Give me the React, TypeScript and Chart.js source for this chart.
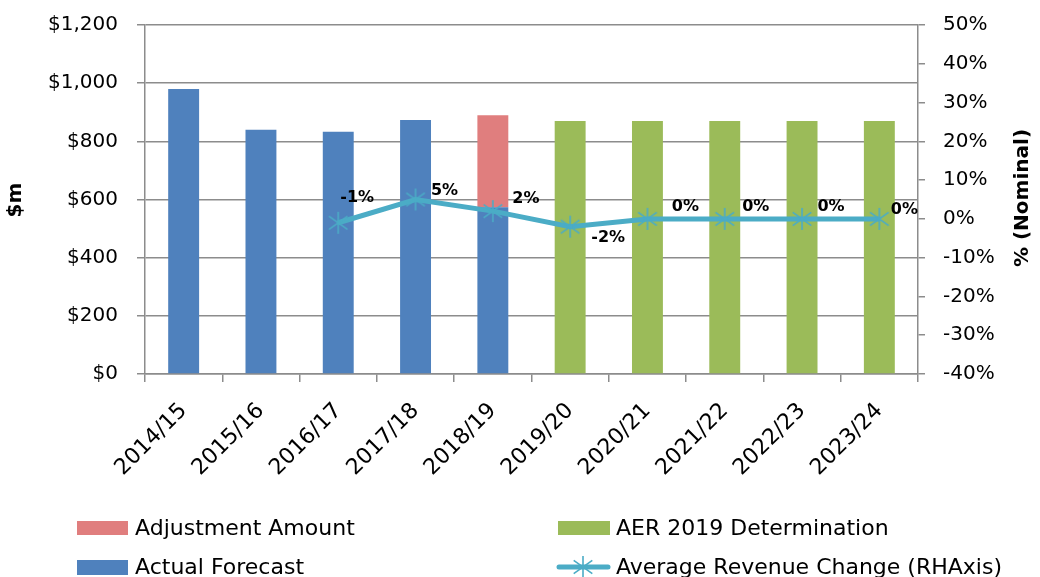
import React, { useEffect, useRef } from "react";
import { Chart, registerables } from "chart.js";

Chart.register(...registerables);

const categories = ["2014/15", "2015/16", "2016/17", "2017/18", "2018/19", "2019/20", "2020/21", "2021/22", "2022/23", "2023/24"];
const actualForecast = [980, 840, 833, 873, 573, null, null, null, null, null];
const adjustmentAmount = [null, null, null, null, 317, null, null, null, null, null];
const aerDetermination = [null, null, null, null, null, 870, 870, 870, 870, 870];
const avgRevenueChange = [null, null, -1, 5, 2, -2, 0, 0, 0, 0];
const leftTicks = [0, 200, 400, 600, 800, 1000, 1200];
const rightTicks = [-40, -30, -20, -10, 0, 10, 20, 30, 40, 50];

// style: data label offsets (px) relative to each point
const labelOffsets: [number, number][] = [
  [0, 0], [0, 0], [19, -25], [29, -9], [33, -12], [38, 11], [38, -12], [31, -12], [29, -12], [25, -9],
];

const BLUE = "#4F81BD";
const RED = "#E07E7E";
const GREEN = "#9BBB59";
const TEAL = "#4BACC6";
const GRID = "#8C8C8C";
const FONT = "'DejaVu Sans', sans-serif";

function makeStar(): HTMLCanvasElement {
  const c = document.createElement("canvas");
  c.width = 22;
  c.height = 24;
  const ctx = c.getContext("2d")!;
  ctx.strokeStyle = TEAL;
  ctx.lineWidth = 1.6;
  const cx = 11, cy = 12;
  ctx.beginPath();
  ctx.moveTo(cx, cy - 11); ctx.lineTo(cx, cy + 11);
  ctx.moveTo(cx - 9.3, cy - 6.7); ctx.lineTo(cx + 9.3, cy + 6.7);
  ctx.moveTo(cx - 9.3, cy + 6.7); ctx.lineTo(cx + 9.3, cy - 6.7);
  ctx.stroke();
  return c;
}

export default function App() {
  const ref = useRef<HTMLCanvasElement>(null);
  useEffect(() => {
    const star = makeStar();
    const extras = {
      id: "extras",
      afterDatasetsDraw(chart: any) {
        const ctx = chart.ctx;
        const meta = chart.getDatasetMeta(3);
        ctx.save();
        ctx.font = `bold 16px ${FONT}`;
        ctx.fillStyle = "#000";
        ctx.textAlign = "center";
        ctx.textBaseline = "middle";
        meta.data.forEach((pt: any, i: number) => {
          const v = avgRevenueChange[i];
          if (v === null || v === undefined) return;
          const [dx, dy] = labelOffsets[i];
          ctx.fillText(`${v}%`, pt.x + dx, pt.y + dy);
        });
        ctx.restore();
      },
      afterDraw(chart: any) {
        const ctx = chart.ctx;
        ctx.save();
        // axis titles
        ctx.font = `bold 20px ${FONT}`;
        ctx.fillStyle = "#000";
        ctx.textAlign = "center";
        ctx.textBaseline = "middle";
        ctx.save();
        ctx.translate(16, 200);
        ctx.rotate(-Math.PI / 2);
        ctx.fillText("$m", 0, 0);
        ctx.restore();
        ctx.save();
        ctx.translate(1023, 198);
        ctx.rotate(-Math.PI / 2);
        ctx.fillText("% (Nominal)", 0, 0);
        ctx.restore();
        // legend
        ctx.font = `22px ${FONT}`;
        ctx.textAlign = "left";
        ctx.fillStyle = RED;
        ctx.fillRect(77, 521, 51, 14);
        ctx.fillStyle = GREEN;
        ctx.fillRect(558, 521, 52, 14);
        ctx.fillStyle = BLUE;
        ctx.fillRect(77, 560, 51, 15);
        ctx.strokeStyle = TEAL;
        ctx.lineWidth = 5;
        ctx.lineCap = "round";
        ctx.beginPath();
        ctx.moveTo(559, 567);
        ctx.lineTo(608, 567);
        ctx.stroke();
        ctx.drawImage(star, 583 - 11, 567 - 12);
        ctx.fillStyle = "#000";
        ctx.fillText("Adjustment Amount", 135, 529);
        ctx.fillText("AER 2019 Determination", 616, 529);
        ctx.fillText("Actual Forecast", 135, 568);
        ctx.fillText("Average Revenue Change (RHAxis)", 616, 568);
        ctx.restore();
      },
    };

    const noVPad = (scale: any, w: number) => {
      scale.width = w;
      scale.paddingTop = 0;
      scale.paddingBottom = 0;
    };

    const chart = new Chart(ref.current!, {
      type: "bar",
      data: {
        labels: categories,
        datasets: [
          { label: "Actual Forecast", data: actualForecast as any, backgroundColor: BLUE, yAxisID: "y", stack: "s", order: 1 },
          { label: "Adjustment Amount", data: adjustmentAmount as any, backgroundColor: RED, yAxisID: "y", stack: "s", order: 1 },
          { label: "AER 2019 Determination", data: aerDetermination as any, backgroundColor: GREEN, yAxisID: "y", stack: "s", order: 1 },
          {
            type: "line",
            label: "Average Revenue Change (RHAxis)",
            data: avgRevenueChange as any,
            borderColor: TEAL,
            backgroundColor: TEAL,
            borderWidth: 5,
            yAxisID: "y2",
            pointStyle: star as any,
            pointRadius: 10,
            order: 0,
            tension: 0,
          } as any,
        ],
      },
      options: {
        responsive: false,
        animation: false,
        layout: { padding: { top: 25, left: 0, right: 0, bottom: 0 } },
        datasets: { bar: { barPercentage: 0.4, categoryPercentage: 1.0 } } as any,
        plugins: { legend: { display: false }, tooltip: { enabled: false } },
        scales: {
          x: {
            stacked: true,
            offset: true,
            grid: { offset: true, drawOnChartArea: false, drawTicks: true, tickLength: 8, color: GRID, lineWidth: 1.5 },
            border: { color: GRID, width: 1.5 },
            ticks: { minRotation: 45, maxRotation: 45, color: "#000", font: { family: FONT, size: 22 }, padding: 16, labelOffset: 0 },
            afterFit(scale: any) { scale.height = 203; },
          },
          y: {
            position: "left",
            stacked: true,
            min: 0,
            max: 1200,
            afterBuildTicks(scale: any) { scale.ticks = leftTicks.map((v) => ({ value: v })); },
            ticks: {
              color: "#000",
              font: { family: FONT, size: 20 },
              padding: 19,
              callback: (v: any) => "$" + Number(v).toLocaleString("en-US"),
            },
            grid: { color: GRID, lineWidth: 1.5, tickLength: 8 },
            border: { color: GRID, width: 1.5 },
            afterFit(scale: any) { noVPad(scale, 145); },
          },
          y2: {
            position: "right",
            min: -40,
            max: 50,
            afterBuildTicks(scale: any) { scale.ticks = rightTicks.map((v) => ({ value: v })); },
            ticks: {
              color: "#000",
              font: { family: FONT, size: 20 },
              padding: 18,
              callback: (v: any) => v + "%",
            },
            grid: { drawOnChartArea: false, color: GRID, lineWidth: 1.5, tickLength: 7 },
            border: { color: GRID, width: 1.5 },
            afterFit(scale: any) { noVPad(scale, 122); },
          },
        },
      },
      plugins: [extras],
    });
    return () => chart.destroy();
  }, []);

  return (
    <div style={{ position: "absolute", left: 0, top: 0, width: 1040, height: 577, background: "#fff" }}>
      <canvas ref={ref} width={1040} height={577} style={{ display: "block" }} />
    </div>
  );
}
